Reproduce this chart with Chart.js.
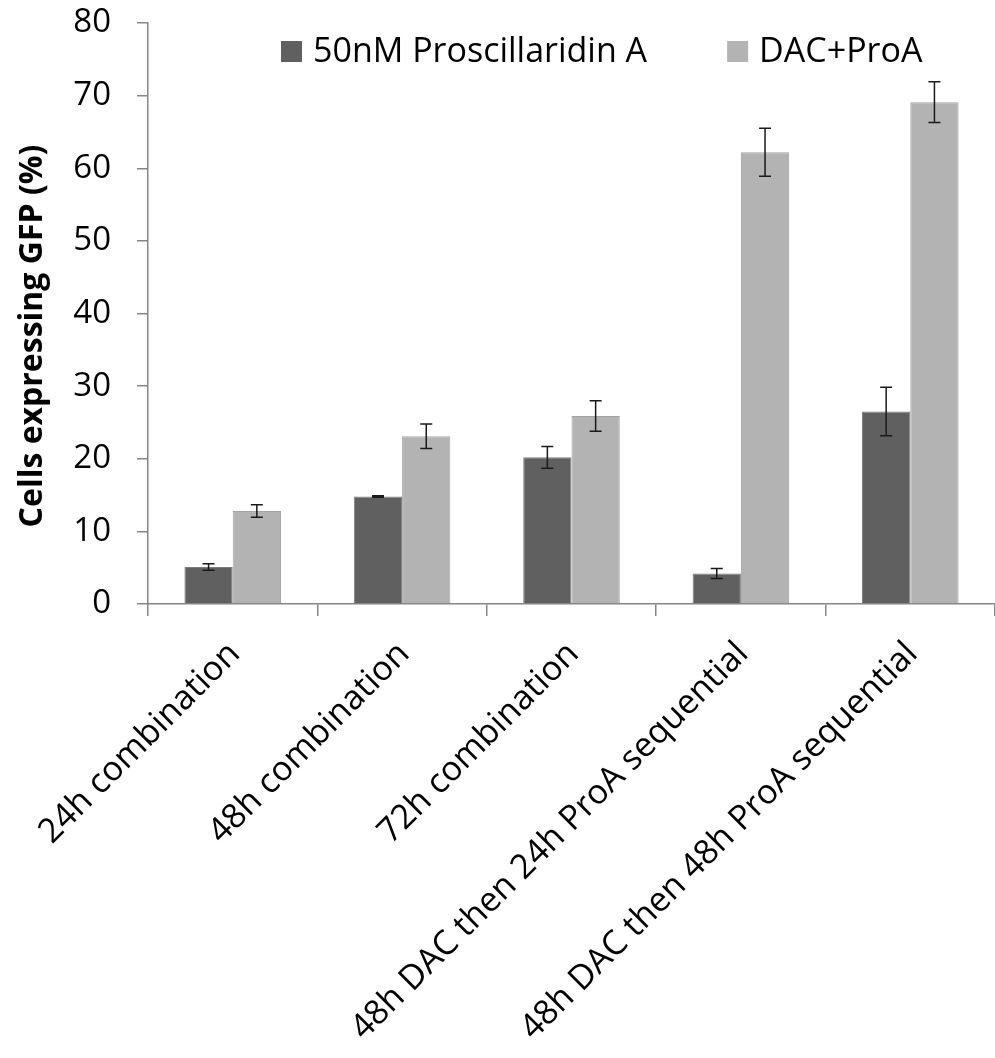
<!DOCTYPE html>
<html>
<head>
<meta charset="utf-8">
<script src="https://cdn.jsdelivr.net/npm/chart.js@4.4.0/dist/chart.umd.min.js"></script>
<style>
  body { margin: 0; background: #fff; }
  #wrap { width: 995px; height: 1058px; }
</style>
</head>
<body>
<div id="wrap"><canvas id="chart"></canvas></div>
<script>
const categories = [
    "24h combination",
    "48h combination",
    "72h combination",
    "48h DAC then 24h ProA sequential",
    "48h DAC then 48h ProA sequential"
]
const proaValues = [5.1, 14.8, 20.2, 4.2, 26.5]
const proaErrors = [0.45, 0.1, 1.5, 0.7, 3.35]
const comboValues = [12.8, 23.1, 25.9, 62.2, 69.1]
const comboErrors = [0.85, 1.7, 2.1, 3.3, 2.8]
const seriesNames = ["50nM Proscillaridin A", "DAC+ProA"]
const yTitle = "Cells expressing GFP (%)"

const FONT = "'Open Sans', sans-serif"
const AXIS = "#868686"

// error bars drawn over each bar from the scale
const errorBars = {
    id: "errorBars",
    afterDatasetsDraw(chart) {
        const ctx = chart.ctx
        const y = chart.scales.y
        chart.data.datasets.forEach((ds, i) => {
            const meta = chart.getDatasetMeta(i)
            meta.data.forEach((bar, j) => {
                const v = ds.data[j], e = ds.errors[j]
                const top = y.getPixelForValue(v + e)
                const bot = y.getPixelForValue(v - e)
                ctx.save()
                ctx.strokeStyle = "#1a1a1a"
                ctx.lineWidth = 1.5
                ctx.beginPath()
                ctx.moveTo(bar.x, top); ctx.lineTo(bar.x, bot)
                ctx.moveTo(bar.x - 6, top); ctx.lineTo(bar.x + 6, top)
                ctx.moveTo(bar.x - 6, bot); ctx.lineTo(bar.x + 6, bot)
                ctx.stroke()
                ctx.restore()
            })
        })
    }
}

// legend inside the plot and the y title, as in the original
const extras = {
    id: "extras",
    afterDraw(chart) {
        const ctx = chart.ctx
        ctx.save()
        ctx.font = "34px " + FONT
        ctx.textBaseline = "middle"
        let x = 281
        const cy = 52
        chart.data.datasets.forEach((ds, i) => {
            ctx.fillStyle = ds.backgroundColor
            ctx.fillRect(x, cy - 11, 21, 21)
            ctx.fillStyle = "#000"
            ctx.fillText(ds.label, x + 32, cy)
            x += 32 + ctx.measureText(ds.label).width + 80
        })
        ctx.font = "bold 32px " + FONT
        ctx.textAlign = "center"
        ctx.translate(33, 336)
        ctx.rotate(-Math.PI / 2)
        ctx.fillText(yTitle, 0, 0)
        ctx.restore()
    }
}

function noPadding(scale) {
    scale.paddingTop = 0
    scale.paddingBottom = 0
    scale.paddingLeft = 0
    scale.paddingRight = 0
}

new Chart(document.getElementById("chart"), {
    type: "bar",
    data: {
        labels: categories,
        datasets: [
            {
                label: seriesNames[0],
                data: proaValues,
                errors: proaErrors,
                backgroundColor: "#606060",
                borderColor: "#7c7c7c",
                borderWidth: 1
            },
            {
                label: seriesNames[1],
                data: comboValues,
                errors: comboErrors,
                backgroundColor: "#b3b3b3",
                borderColor: "#a3a3a3",
                borderWidth: 1
            }
        ]
    },
    options: {
        responsive: true,
        maintainAspectRatio: false,
        animation: false,
        layout: { padding: { top: 23, left: 0, right: 0, bottom: 0 } },
        datasets: { bar: { categoryPercentage: 0.57, barPercentage: 1.0 } },
        plugins: {
            legend: { display: false },
            tooltip: { enabled: false }
        },
        scales: {
            x: {
                afterFit(scale) { scale.height = 454; noPadding(scale) },
                border: { color: AXIS, width: 1.5 },
                grid: { offset: true, drawOnChartArea: false, color: AXIS, tickLength: 12, lineWidth: 1.5 },
                ticks: {
                    color: "#000",
                    font: { family: FONT, size: 34 },
                    minRotation: 45,
                    maxRotation: 45,
                    autoSkip: false,
                    labelOffset: 2,
                    padding: 18
                }
            },
            y: {
                min: 0,
                max: 80,
                afterFit(scale) { scale.width = 148; noPadding(scale) },
                border: { color: AXIS, width: 1.5 },
                grid: { drawOnChartArea: false, color: AXIS, tickLength: 11, lineWidth: 1.5 },
                ticks: {
                    stepSize: 10,
                    color: "#000",
                    font: { family: FONT, size: 33 },
                    padding: 26
                }
            }
        }
    },
    plugins: [errorBars, extras]
})
</script>
</body>
</html>
